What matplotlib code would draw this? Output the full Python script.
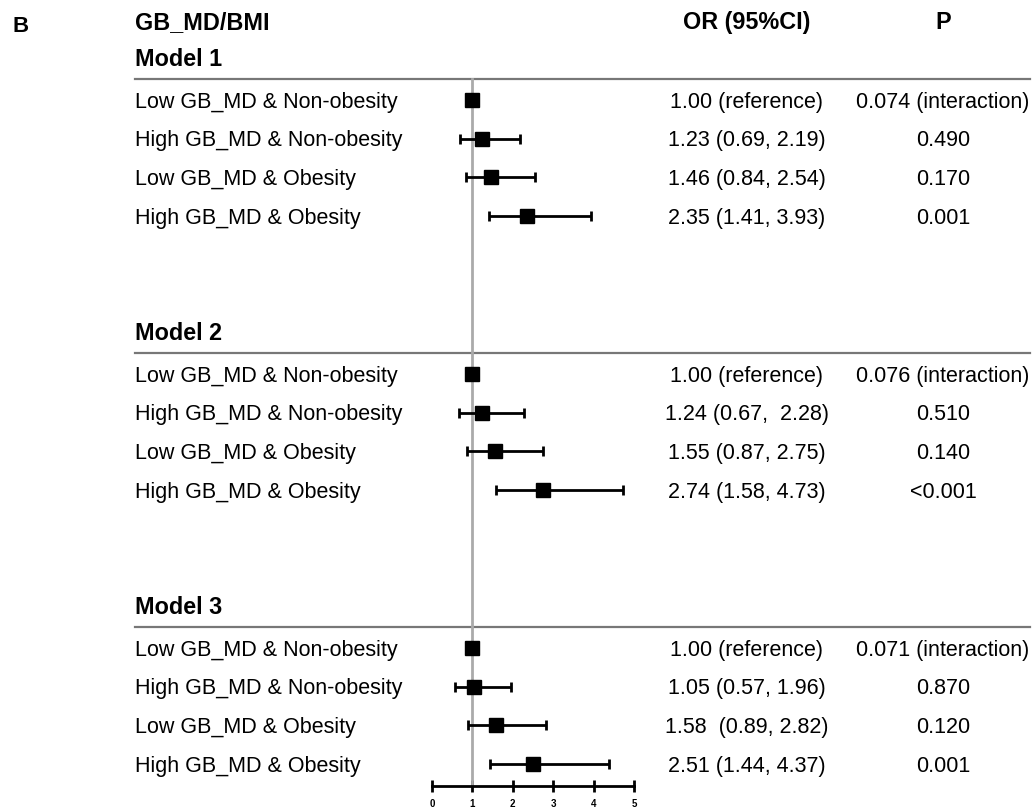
import matplotlib
matplotlib.use("Agg")
import matplotlib.pyplot as plt
from matplotlib.transforms import blended_transform_factory
from matplotlib.lines import Line2D

plt.rcParams['font.family'] = ['Liberation Sans', 'DejaVu Sans']

# ---------------- data ----------------
models = ["Model 1", "Model 2", "Model 3"]
groups = ["Low GB_MD & Non-obesity", "High GB_MD & Non-obesity",
          "Low GB_MD & Obesity", "High GB_MD & Obesity"]

or_m1 = [1.00, 1.23, 1.46, 2.35]
lo_m1 = [1.00, 0.69, 0.84, 1.41]
hi_m1 = [1.00, 2.19, 2.54, 3.93]

or_m2 = [1.00, 1.24, 1.55, 2.74]
lo_m2 = [1.00, 0.67, 0.87, 1.58]
hi_m2 = [1.00, 2.28, 2.75, 4.73]

or_m3 = [1.00, 1.05, 1.58, 2.51]
lo_m3 = [1.00, 0.57, 0.89, 1.44]
hi_m3 = [1.00, 1.96, 2.82, 4.37]

or_text_m1 = ["1.00 (reference)", "1.23 (0.69, 2.19)", "1.46 (0.84, 2.54)", "2.35 (1.41, 3.93)"]
or_text_m2 = ["1.00 (reference)", "1.24 (0.67,  2.28)", "1.55 (0.87, 2.75)", "2.74 (1.58, 4.73)"]
or_text_m3 = ["1.00 (reference)", "1.05 (0.57, 1.96)", "1.58  (0.89, 2.82)", "2.51 (1.44, 4.37)"]

p_m1 = ["0.074 (interaction)", "0.490", "0.170", "0.001"]
p_m2 = ["0.076 (interaction)", "0.510", "0.140", "<0.001"]
p_m3 = ["0.071 (interaction)", "0.870", "0.120", "0.001"]

xticks = [0, 1, 2, 3, 4, 5]

ors = [or_m1, or_m2, or_m3]
los = [lo_m1, lo_m2, lo_m3]
his = [hi_m1, hi_m2, hi_m3]
or_texts = [or_text_m1, or_text_m2, or_text_m3]
p_texts = [p_m1, p_m2, p_m3]

# ---------------- layout ----------------
W, H = 1033, 810
fig = plt.figure(figsize=(W / 100, H / 100), dpi=100)
ax_left, ax_right, ax_bottom = 432, 634, 786
ax = fig.add_axes([ax_left / W, (H - ax_bottom) / H, (ax_right - ax_left) / W, ax_bottom / H])
ax.set_xlim(0, 5)
ax.set_ylim(ax_bottom, 0)
ax.patch.set_alpha(0)
for s in ["top", "right", "left"]:
    ax.spines[s].set_visible(False)
ax.spines["bottom"].set_linewidth(2)
ax.set_yticks([])
ax.set_xticks(xticks)
ax.set_xticklabels([str(t) for t in xticks])
ax.tick_params(axis="x", direction="inout", length=9, width=2, labelsize=7, pad=5)
for lab in ax.get_xticklabels():
    lab.set_fontweight("bold")

trans = blended_transform_factory(fig.transFigure, ax.transData)

first_row = 100
row_step = 38.7
block_step = 274
header_off = -42
rule_off = -21

label_x = 135 / W
or_x = 747 / W
p_x = 943 / W
fs = 15.5
fs_b = 16.8
CAP = 0.716


def put(x, y, s, size, weight="normal", ha="left"):
    # place text so that its cap-height centre sits at y (y in pixel-like axis units)
    off = size * 100 / 72 * CAP / 2
    ax.text(x, y + off, s, transform=trans, fontsize=size, fontweight=weight,
            va="baseline", ha=ha)


# top headers
put(12 / W, 24, "B", 16, "bold")
put(label_x, 20.5, "GB_MD/BMI", fs_b, "bold")
put(or_x, 20.5, "OR (95%CI)", fs_b, "bold", ha="center")
put(p_x, 20.5, "P", fs_b, "bold", ha="center")

rule_tops = []
for m, name in enumerate(models):
    base = first_row + m * block_step
    put(label_x, base + header_off, name, fs_b, "bold")
    ry = base + rule_off
    rule_tops.append(ry)
    ax.add_line(Line2D([135 / W, 1030 / W], [ry, ry], transform=trans,
                       color="#777777", lw=1.6, clip_on=False, zorder=1))
    ys = [base + i * row_step for i in range(len(groups))]
    for i, g in enumerate(groups):
        put(label_x, ys[i], g, fs)
        put(or_x, ys[i], or_texts[m][i], fs, ha="center")
        put(p_x, ys[i], p_texts[m][i], fs, ha="center")
    xerr = [[o - l for o, l in zip(ors[m], los[m])], [h - o for o, h in zip(ors[m], his[m])]]
    ax.errorbar(ors[m], ys, xerr=xerr, fmt="s", color="black", ecolor="black",
                elinewidth=2, capsize=3.6, capthick=2, markersize=9.5, zorder=3)

ax.plot([1, 1], [rule_tops[0], ax_bottom], color="#aaaaaa", lw=2, zorder=2)

fig.savefig("out.png", dpi=100)
